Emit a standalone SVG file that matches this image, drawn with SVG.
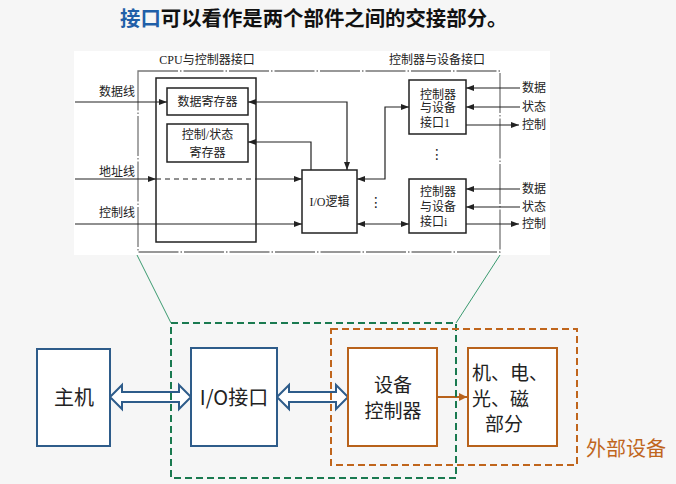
<svg xmlns="http://www.w3.org/2000/svg" width="676" height="484" viewBox="0 0 676 484">
<defs>
<style>
.ln{fill:none;stroke:#222;stroke-width:1.2}
.bx{fill:none;stroke:#222;stroke-width:1.5}
.t{font-family:"Liberation Serif","Noto Sans CJK SC",serif;font-size:12px;fill:#222}
.big{font-family:"Noto Sans CJK SC","Liberation Sans",sans-serif;font-size:20px;fill:#222}
.mid{font-family:"Noto Sans CJK SC","Liberation Sans",sans-serif;font-size:19px;fill:#222}
.bb{fill:#fff;stroke:#2e5c8a;stroke-width:2}
.ob{fill:#fff;stroke:#b8621b;stroke-width:2}
</style>
<marker id="ah" viewBox="0 0 8 6" refX="8" refY="3" markerWidth="8" markerHeight="6" markerUnits="userSpaceOnUse" orient="auto-start-reverse">
<path d="M0,0 L8,3 L0,6 z" fill="#222"/>
</marker>
<marker id="oh" viewBox="0 0 8 8" refX="8" refY="4" markerWidth="8" markerHeight="8" markerUnits="userSpaceOnUse" orient="auto">
<path d="M0,0 L8,4 L0,8 z" fill="#b8621b"/>
</marker>
</defs>
<rect width="676" height="484" fill="#f6f6f6"/>
<text x="120" y="26" font-family="'Noto Sans CJK SC',sans-serif" font-size="20.4" font-weight="bold" fill="#111"><tspan fill="#1f5fa8">接口</tspan>可以看作是两个部件之间的交接部分。</text>

<rect x="74" y="51" width="476" height="204" fill="#fff"/>

<g id="boundary">
<rect x="138" y="71" width="362" height="181" fill="none" stroke="#777" stroke-width="1.3" stroke-dasharray="40 2 1.5 2"/>
<text class="t" x="207" y="64" text-anchor="middle">CPU与控制器接口</text>
<text class="t" x="437" y="64" text-anchor="middle">控制器与设备接口</text>
</g>

<g id="cpu_if"><rect class="bx" x="156" y="78" width="100" height="164"/></g>
<g id="data_reg"><rect class="bx" x="167" y="88" width="81" height="27"/><text class="t" x="207.5" y="106" text-anchor="middle">数据寄存器</text></g>
<g id="ctrl_reg"><rect class="bx" x="167" y="124" width="81" height="38"/><text class="t" x="207.5" y="139" text-anchor="middle">控制/状态</text><text class="t" x="207.5" y="157" text-anchor="middle">寄存器</text></g>
<g id="io_logic"><rect class="bx" x="302" y="170" width="55" height="63"/><text class="t" x="329.5" y="206" text-anchor="middle">I/O逻辑</text></g>
<g id="dev_if1"><rect class="bx" x="409" y="80" width="57" height="54"/><text class="t" x="420" y="99">控制器</text><text class="t" x="420" y="112">与设备</text><text class="t" x="420" y="127">接口1</text></g>
<g id="dev_ifi"><rect class="bx" x="409" y="179" width="57" height="54"/><text class="t" x="420" y="196">控制器</text><text class="t" x="420" y="211">与设备</text><text class="t" x="420" y="226">接口i</text></g>

<g id="labels">
<text class="t" x="135" y="96" text-anchor="end">数据线</text>
<text class="t" x="135" y="176" text-anchor="end">地址线</text>
<text class="t" x="135" y="217" text-anchor="end">控制线</text>
<text class="t" x="522" y="92">数据</text>
<text class="t" x="522" y="111">状态</text>
<text class="t" x="522" y="129">控制</text>
<text class="t" x="522" y="193">数据</text>
<text class="t" x="522" y="211">状态</text>
<text class="t" x="522" y="228">控制</text>
<text x="437" y="159" font-family="'DejaVu Sans',sans-serif" font-size="14" fill="#222" text-anchor="middle">⋮</text>
<text x="376" y="207" font-family="'DejaVu Sans',sans-serif" font-size="14" fill="#222" text-anchor="middle">⋮</text>
</g>

<g id="connectors">
<line class="ln" x1="75" y1="102" x2="167" y2="102" marker-end="url(#ah)"/>
<line class="ln" x1="75" y1="179" x2="156" y2="179" marker-end="url(#ah)"/>
<line class="ln" x1="156" y1="179" x2="256" y2="179" stroke-dasharray="5 4"/>
<line class="ln" x1="256" y1="179" x2="302" y2="179" marker-end="url(#ah)"/>
<line class="ln" x1="75" y1="224" x2="302" y2="224" marker-end="url(#ah)"/>
<path class="ln" d="M248,102 H347 V170" marker-start="url(#ah)" marker-end="url(#ah)"/>
<path class="ln" d="M311,170 V142 H248" marker-end="url(#ah)"/>
<path class="ln" d="M357,179 H385 V107 H409" marker-start="url(#ah)" marker-end="url(#ah)"/>
<line class="ln" x1="357" y1="224" x2="409" y2="224" marker-start="url(#ah)" marker-end="url(#ah)"/>
<line class="ln" x1="520" y1="88" x2="466" y2="88" marker-end="url(#ah)"/>
<line class="ln" x1="520" y1="107" x2="466" y2="107" marker-end="url(#ah)"/>
<line class="ln" x1="466" y1="125" x2="519" y2="125" marker-end="url(#ah)"/>
<line class="ln" x1="520" y1="189" x2="466" y2="189" marker-end="url(#ah)"/>
<line class="ln" x1="520" y1="207" x2="466" y2="207" marker-end="url(#ah)"/>
<line class="ln" x1="466" y1="224" x2="519" y2="224" marker-end="url(#ah)"/>
<line x1="137" y1="255" x2="171" y2="323" stroke="#3a9a70" stroke-width="1"/>
<line x1="500" y1="255" x2="456" y2="323" stroke="#3a9a70" stroke-width="1"/>
<path d="M110,397 L122,385 L122,392 L179,392 L179,385 L191,397 L179,409 L179,402 L122,402 L122,409 Z" fill="#fff" stroke="#2e5c8a" stroke-width="2" stroke-linejoin="miter"/>
<path d="M277,397 L289,385 L289,392 L336,392 L336,385 L348,397 L336,409 L336,402 L289,402 L289,409 Z" fill="#fff" stroke="#2e5c8a" stroke-width="2" stroke-linejoin="miter"/>
<line x1="437" y1="397" x2="467" y2="397" stroke="#b8621b" stroke-width="2" marker-end="url(#oh)"/>
</g>

<g id="host"><rect class="bb" x="37" y="349" width="73" height="97"/><text class="big" x="74" y="405" text-anchor="middle">主机</text></g>
<g id="io_if"><rect class="bb" x="191" y="348" width="86" height="98"/><text class="big" x="234" y="405" text-anchor="middle">I/O接口</text></g>
<g id="dev_ctrl"><rect class="ob" x="348" y="348" width="89" height="98"/><text class="mid" x="393" y="392" text-anchor="middle">设备</text><text class="mid" x="393" y="418" text-anchor="middle">控制器</text></g>
<g id="mech"><rect class="ob" x="468" y="348" width="89" height="98"/><text class="mid" x="472" y="380">机、电、</text><text class="mid" x="472" y="406">光、磁</text><text class="mid" x="504" y="431" text-anchor="middle">部分</text></g>

<g id="groups">
<rect x="171" y="323" width="285" height="155" fill="none" stroke="#1a7a50" stroke-width="2" stroke-dasharray="7 4"/>
<rect x="331" y="329" width="246" height="136" fill="none" stroke="#c0651c" stroke-width="2" stroke-dasharray="7 4"/>
<text x="586" y="456" font-family="'Noto Sans CJK SC',sans-serif" font-size="20" fill="#c0661e">外部设备</text>
</g>
</svg>
